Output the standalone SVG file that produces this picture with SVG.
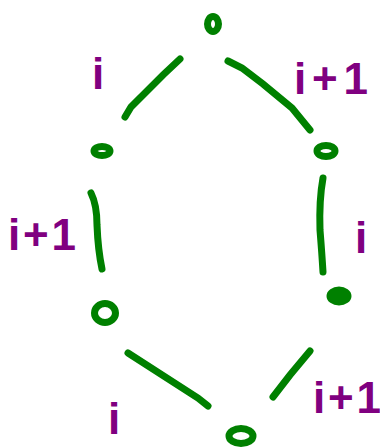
<svg xmlns="http://www.w3.org/2000/svg" width="380" height="447" viewBox="0 0 380 447">
<style>
.node{fill:none;stroke:#008000;stroke-width:7}
.dot{fill:#008000;stroke:#008000;stroke-width:3}
.edge{fill:none;stroke:#008000;stroke-width:7;stroke-linecap:round}
.lbl{fill:#800080;font-family:"Liberation Sans",Arial,sans-serif;font-weight:bold;font-size:44px}
</style>
<rect width="380" height="447" fill="#ffffff"/>
<g id="connectors">
<path class="edge" d="M180,59 L163,75 L131,107 L125,117"/>
<path class="edge" d="M228,61 L242,68 L263,84 L292,108 L310,130"/>
<path class="edge" d="M91,193 Q97,205 97,225 Q98,250 102,269"/>
<path class="edge" d="M323,178 Q319,200 320,230 Q322,255 323,272"/>
<path class="edge" d="M128,353 L198,398 L208,406"/>
<path class="edge" d="M310,351 L290,375 L273,397"/>
</g>
<g id="node-top"><ellipse class="node" cx="213" cy="24" rx="5.5" ry="7.5"/></g>
<g id="node-left-upper"><ellipse class="node" cx="102" cy="151" rx="8" ry="4.5"/></g>
<g id="node-right-upper"><ellipse class="node" cx="326" cy="151" rx="9" ry="5.5"/></g>
<g id="node-left-lower"><ellipse class="node" cx="105" cy="313" rx="10.5" ry="9.5"/></g>
<g id="node-right-lower"><ellipse class="dot" cx="339" cy="296" rx="11" ry="8"/></g>
<g id="node-bottom"><ellipse class="node" cx="241" cy="436" rx="12" ry="7.5"/></g>
<g id="labels">
<text class="lbl" x="92" y="89">i</text>
<text class="lbl" x="294" y="94" textLength="74" lengthAdjust="spacing">i+1</text>
<text class="lbl" x="8" y="250" textLength="68" lengthAdjust="spacing">i+1</text>
<text class="lbl" x="355" y="253">i</text>
<text class="lbl" x="108" y="434">i</text>
<text class="lbl" x="313" y="413" textLength="68" lengthAdjust="spacing">i+1</text>
</g>
</svg>
